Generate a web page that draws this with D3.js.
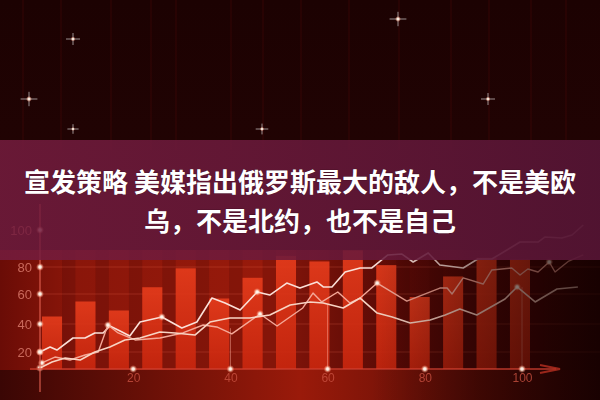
<!DOCTYPE html>
<html><head><meta charset="utf-8">
<script src="https://cdn.jsdelivr.net/npm/d3@7"></script>
<style>html,body{margin:0;padding:0;background:#1e0202;}svg{display:block;}</style>
</head><body>
<svg id="c" width="600" height="400"></svg>
<script>
// ---------- data ----------
const titleLines = ["宣发策略 美媒指出俄罗斯最大的敌人，不是美欧", "乌，不是北约，也不是自己"];
const yTickValues = [20, 40, 60, 80, 100];
const xTickValues = [20, 40, 60, 80, 100];
const barCategories = [1,2,3,4,5,6,7,8,9,10,11,12,13,14,15];
const barValues = [45, 55, 49, 65, 79, 57, 72, 86, 83, 89, 81, 58, 73, 85, 84];
const line1X = [0.8,2.9,4.3,7.6,10.1,12.1,13.8,15.2,17.3,19.3,21.4,25.9,30,33.1,36.2,38.9,42,45.5,48.1,51.6,54.3,57.8,59.1,60.9,63.6,66.7,69.1,72.4,75.3,77.6,80.7,83.1,87.9,90.9,93.8,96.9,99.6,103.3,104.7,108.2,110.3,112.6];
const line1Y = [20,23.6,21.4,30,30,33.6,33.6,38.6,35,31.4,41.3,44.7,37.1,41.3,57.3,54,49.3,61.5,59.3,68.1,64.4,68.9,65.2,65.2,76.3,79.3,79.3,86.5,87,82.7,87.6,81.1,79.3,84.3,84.3,89.2,93.5,93.5,96.2,95.7,97.3,102.7];
const line2X = [1.2,3.9,7,10.1,12.8,14.8,16.9,20.4,25.5,30.2,34.4,37.2,40.3,46.1,49.6,54.9,57,58.8,62.1,64.6,66.7,70.2,76.3,83.1,84.6,85.6,87.9,92,93.8,97.9,99.6,101.2,103.3,105.6,106.8,109.5,112.6];
const line2Y = [7.1,14.1,10.6,16.5,20,39.3,33.6,28.6,30,33.6,39.3,37.9,32.9,46.7,38.6,50.7,60.7,54.7,61.5,54,57.3,68.1,55.3,64.4,64.4,60,71.9,67.4,77.8,79.3,74.1,78.5,76.3,82.7,76.3,83,86.5];
const line3X = [0.8,3.3,6,9.1,12.1,15.2,18.3,21.4,25.5,28.6,32.7,35.8,39.9,44,48.1,52.3,56.4,59.1,63.2,66.7,70.2,73.3,77,81.1,84.2,87.2,90.7,96.5,99,102.7,107.2,111.5];
const line3Y = [1.2,8.2,12.9,10.6,20,23.6,28.6,30,34.3,33.6,32.1,41.3,44,44,46,52.7,54.7,54,50.7,57.3,47.3,44.7,40.7,42.7,46,50,46,56.7,65.2,54.7,63.7,65.2];
const line1Dots = [0, 11, 17];
const line2Dots = [0, 5, 13, 21, 33];
const line3Dots = [0, 28];
const dropLines = [[40, 37], [60, 53], [100, 65]];

// ---------- setup ----------
const svg = d3.select("#c");
const W = 600, H = 400;
const y = d3.scaleLinear().domain([0, 20, 40, 60, 80, 100]).range([369, 352, 324, 294, 267, 230]);
const x = d3.scaleLinear().domain([0, 100]).range([36, 522]);
const xb = d3.scaleBand().domain(barCategories).range([42, 530]).paddingInner(0.4).paddingOuter(0);

const defs = svg.append("defs");
function lin(id, x1, y1, x2, y2, stops) {
  const g = defs.append("linearGradient").attr("id", id)
    .attr("x1", x1).attr("y1", y1).attr("x2", x2).attr("y2", y2);
  stops.forEach(s => g.append("stop").attr("offset", s[0]).attr("stop-color", s[1]).attr("stop-opacity", s[2] == null ? 1 : s[2]));
}
lin("bgTop", 0, 0, 0, 1, [[0, "#1c0202"], [0.7, "#250404"], [1, "#3a0606"]]);
lin("chartBg", 0, 0, 1, 0, [[0, "#6a0c06"], [0.12, "#8a160a"], [0.45, "#981a0b"], [0.68, "#5a0a06"], [1, "#2a0403"]]);
lin("barGrad", 0, 0, 0, 1, [[0, "#e63c1c"], [1, "#c8260e"]]);
lin("shade", 0, 0, 1, 0, [[0, "#1a0000", 0], [0.62, "#1a0000", 0], [0.8, "#1a0000", 0.45], [1, "#120000", 0.75]]);
lin("banner", 0, 0, 1, 0, [[0, "#741c3e"], [0.4, "#6c1a3c"], [1, "#5a1638"]]);
lin("bottom", 0, 0, 1, 0, [[0, "#3a0604"], [0.5, "#9a1a0a"], [1, "#300504"]]);
const rg = defs.append("radialGradient").attr("id", "glow");
rg.append("stop").attr("offset", 0).attr("stop-color", "#ffffff").attr("stop-opacity", 1);
rg.append("stop").attr("offset", 0.35).attr("stop-color", "#fff0e0").attr("stop-opacity", 0.9);
rg.append("stop").attr("offset", 1).attr("stop-color", "#ff8060").attr("stop-opacity", 0);
const blur = defs.append("filter").attr("id", "blur1").attr("x", "-50%").attr("y", "-50%").attr("width", "200%").attr("height", "200%");
blur.append("feGaussianBlur").attr("stdDeviation", 0.6);

// ---------- background ----------
svg.append("rect").attr("width", W).attr("height", H).attr("fill", "url(#bgTop)");
const streaks = [22, 60, 110, 150, 175, 230, 262, 300, 348, 398, 450, 488, 530, 565];
svg.append("g").selectAll("rect").data(streaks).join("rect")
  .attr("x", d => d).attr("y", 0).attr("width", 2).attr("height", 150)
  .attr("fill", "#4a0808").attr("opacity", 0.25);

svg.append("rect").attr("x", 0).attr("y", 250).attr("width", W).attr("height", 122).attr("fill", "url(#chartBg)");
svg.append("rect").attr("x", 0).attr("y", 370).attr("width", W).attr("height", 30).attr("fill", "url(#bottom)");

// darker stripes behind bars
svg.append("g").selectAll("rect").data(barCategories).join("rect")
  .attr("x", d => xb(d) + xb.bandwidth()).attr("y", 250)
  .attr("width", xb.step() - xb.bandwidth()).attr("height", 119)
  .attr("fill", "#3a0604").attr("opacity", 0.2);

// gridlines
svg.append("g").selectAll("line").data(yTickValues.slice(0, 4)).join("line")
  .attr("x1", 40).attr("x2", 600).attr("y1", d => y(d)).attr("y2", d => y(d))
  .attr("stroke", "#ff7a60").attr("stroke-opacity", 0.22).attr("stroke-width", 1);

// bars
svg.append("g").selectAll("rect").data(barCategories).join("rect")
  .attr("x", d => xb(d)).attr("width", xb.bandwidth())
  .attr("y", (d, i) => y(barValues[i])).attr("height", (d, i) => y(0) - y(barValues[i]))
  .attr("fill", "url(#barGrad)").attr("opacity", 0.9);

// drop lines from ticks
svg.append("g").selectAll("line").data(dropLines).join("line")
  .attr("x1", d => x(d[0])).attr("x2", d => x(d[0]))
  .attr("y1", y(0)).attr("y2", d => y(d[1]))
  .attr("stroke", "#ffb0a0").attr("stroke-opacity", 0.5).attr("stroke-width", 1);

// lines
const lineGen = d3.line().x(d => x(d[0])).y(d => y(d[1]));
const series = [
  {xs: line1X, ys: line1Y, color: "#fbe0d8", w: 1.6, dots: line1Dots},
  {xs: line2X, ys: line2Y, color: "#f4a898", w: 1.4, dots: line2Dots},
  {xs: line3X, ys: line3Y, color: "#f8d4c4", w: 1.6, dots: line3Dots}
];
series.forEach(s => {
  const pts = s.xs.map((v, i) => [v, s.ys[i]]);
  svg.append("path").datum(pts).attr("d", lineGen)
    .attr("fill", "none").attr("stroke", s.color).attr("stroke-width", s.w)
    .attr("stroke-linejoin", "round").attr("filter", "url(#blur1)");
  svg.append("g").selectAll("circle").data(s.dots).join("circle")
    .attr("cx", i => x(pts[i][0])).attr("cy", i => y(pts[i][1])).attr("r", 4)
    .attr("fill", "url(#glow)");
});

// right-side vignette
svg.append("rect").attr("x", 0).attr("y", 140).attr("width", W).attr("height", 260).attr("fill", "url(#shade)");

// axes lines with arrows
svg.append("line").attr("x1", 30).attr("x2", 556).attr("y1", y(0)).attr("y2", y(0))
  .attr("stroke", "#d04030").attr("stroke-width", 1.5).attr("opacity", 0.85);
svg.append("path").attr("d", `M540,${y(0) - 4} L560,${y(0)} L540,${y(0) + 4}`)
  .attr("fill", "none").attr("stroke", "#b83020").attr("stroke-width", 2).attr("opacity", 0.8);
svg.append("line").attr("x1", 40).attr("x2", 40).attr("y1", 392).attr("y2", 204)
  .attr("stroke", "#e06050").attr("stroke-width", 1.3).attr("opacity", 0.85);

// axis labels
const yAxis = svg.append("g").attr("transform", "translate(40,0)")
  .call(d3.axisLeft(y).tickValues(yTickValues).tickSize(0).tickPadding(8));
yAxis.select(".domain").remove();
yAxis.selectAll("text").attr("fill", "#d8786a").attr("font-size", 13)
  .attr("font-family", "Liberation Sans, Arial, sans-serif").attr("opacity", 0.85);
const xAxis = svg.append("g").attr("transform", `translate(0,${y(0)})`)
  .call(d3.axisBottom(x).tickValues(xTickValues).tickSize(0).tickPadding(4));
xAxis.select(".domain").remove();
xAxis.selectAll("text").attr("fill", "#c85040").attr("font-size", 12)
  .attr("font-family", "Liberation Sans, Arial, sans-serif").attr("opacity", 0.8);

// tick glow dots
svg.append("g").selectAll("circle").data(yTickValues).join("circle")
  .attr("cx", 40).attr("cy", d => y(d)).attr("r", 4).attr("fill", "url(#glow)");
svg.append("g").selectAll("circle").data(xTickValues).join("circle")
  .attr("cx", d => x(d)).attr("cy", y(0)).attr("r", 4).attr("fill", "url(#glow)");

// stars
const stars = [[73, 39, 1], [398, 19, 1.2], [29, 99, 1.2], [488, 99, 1], [73, 129, 0.8], [262, 129, 0.9]];
const sg = svg.append("g");
stars.forEach(s => {
  const g = sg.append("g").attr("transform", `translate(${s[0]},${s[1]})`);
  g.append("line").attr("x1", -7 * s[2]).attr("x2", 7 * s[2]).attr("stroke", "#ffffff").attr("stroke-width", 0.8).attr("opacity", 0.7);
  g.append("line").attr("y1", -6 * s[2]).attr("y2", 6 * s[2]).attr("stroke", "#ffffff").attr("stroke-width", 0.8).attr("opacity", 0.7);
  g.append("circle").attr("r", 2.5 * s[2]).attr("fill", "url(#glow)");
});

// banner
svg.append("rect").attr("x", 0).attr("y", 140).attr("width", W).attr("height", 120)
  .attr("fill", "url(#banner)").attr("opacity", 0.86);

// title
svg.append("g").selectAll("text").data(titleLines).join("text")
  .attr("x", 300).attr("y", (d, i) => 192 + i * 39)
  .attr("text-anchor", "middle")
  .attr("font-family", "Noto Sans CJK SC, sans-serif").attr("font-weight", "bold")
  .attr("font-size", 26).attr("fill", "#ffffff")
  .attr("stroke", "#3a0a1e").attr("stroke-width", 0.6).attr("paint-order", "stroke")
  .text(d => d);
</script>
</body></html>
